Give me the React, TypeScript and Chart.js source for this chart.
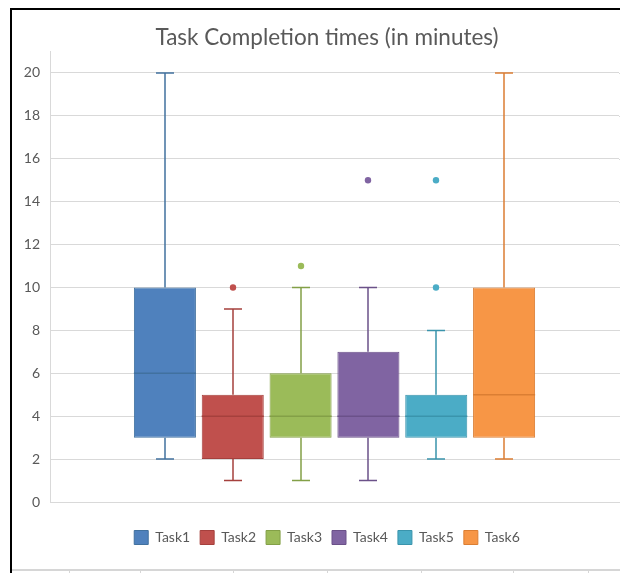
import React, { useEffect, useRef } from 'react';
import { Chart, registerables } from 'chart.js';

Chart.register(...registerables);

const categories = ['Task1', 'Task2', 'Task3', 'Task4', 'Task5', 'Task6'];
const whiskerMin = [2, 1, 1, 1, 2, 2];
const q1 = [3, 2, 3, 3, 3, 3];
const median = [6, 4, 4, 4, 4, 5];
const q3 = [10, 5, 6, 7, 5, 10];
const whiskerMax = [20, 9, 10, 10, 8, 20];
const outliers: number[][] = [[], [10], [11], [15], [10, 15], []];
const yTicks = [0, 2, 4, 6, 8, 10, 12, 14, 16, 18, 20];

const fillColors = ['#4F81BD', '#C0504D', '#9BBB59', '#8064A2', '#4BACC6', '#F79646'];
const lineColors = ['#41719F', '#A5403D', '#83A047', '#6B5189', '#3A94AC', '#DB7E33'];

const boxExtras = {
  id: 'boxExtras',
  afterLayout(chart: any) {
    const y = chart.scales.y;
    if (y) {
      y.width = y.right;
      y.left = 0;
    }
  },
  beforeDatasetsDraw(chart: any) {
    const ctx = chart.ctx;
    const y = chart.scales.y;
    const area = chart.chartArea;
    ctx.save();
    ctx.strokeStyle = '#d9d9d9';
    ctx.lineWidth = 1;
    yTicks.forEach((v) => {
      const py = Math.round(y.getPixelForValue(v)) + 0.5;
      ctx.beginPath();
      ctx.moveTo(area.right, py);
      ctx.lineTo(chart.width, py);
      ctx.stroke();
    });
    ctx.restore();
  },
  afterDatasetsDraw(chart: any) {
    const ctx = chart.ctx;
    const y = chart.scales.y;
    ctx.save();
    chart.data.datasets.forEach((_ds: any, i: number) => {
      const meta = chart.getDatasetMeta(i);
      const bar: any = meta.data[0];
      if (!bar) return;
      const cx = Math.round(bar.x);
      const half = bar.width / 2;
      const capHalf = 9;
      ctx.strokeStyle = lineColors[i];
      ctx.lineWidth = 1.5;
      const pMax = y.getPixelForValue(whiskerMax[i]);
      const pQ3 = y.getPixelForValue(q3[i]);
      const pQ1 = y.getPixelForValue(q1[i]);
      const pMin = y.getPixelForValue(whiskerMin[i]);
      const pMed = y.getPixelForValue(median[i]);
      ctx.beginPath();
      ctx.moveTo(cx, pMax);
      ctx.lineTo(cx, pQ3);
      ctx.moveTo(cx - capHalf, pMax);
      ctx.lineTo(cx + capHalf, pMax);
      ctx.moveTo(cx, pQ1);
      ctx.lineTo(cx, pMin);
      ctx.moveTo(cx - capHalf, pMin);
      ctx.lineTo(cx + capHalf, pMin);
      ctx.stroke();
      ctx.beginPath();
      ctx.moveTo(bar.x - half, pMed);
      ctx.lineTo(bar.x + half, pMed);
      ctx.stroke();
      ctx.fillStyle = fillColors[i];
      outliers[i].forEach((v) => {
        ctx.beginPath();
        ctx.arc(cx, y.getPixelForValue(v), 3.2, 0, Math.PI * 2);
        ctx.fill();
      });
    });
    ctx.restore();
  },
};

export default function App() {
  const ref = useRef<HTMLCanvasElement>(null);
  useEffect(() => {
    if (!ref.current) return;
    const chart = new Chart(ref.current, {
      type: 'bar',
      data: {
        labels: [''],
        datasets: categories.map((name, i) => ({
          label: name,
          data: [[q1[i], q3[i]]] as any,
          backgroundColor: fillColors[i],
          borderColor: lineColors[i],
          borderWidth: 1,
          borderSkipped: false,
          categoryPercentage: 0.7153,
          barPercentage: 0.9145,
        })),
      },
      options: {
        responsive: false,
        animation: false,
        layout: { padding: { left: 23, right: 9, top: 0, bottom: 13.5 } },
        plugins: {
          title: {
            display: true,
            text: 'Task Completion times (in minutes)',
            color: '#595959',
            font: { family: 'Lato', size: 22.5, weight: 'normal' },
            padding: { top: 14, bottom: 0.5 },
          },
          legend: {
            position: 'bottom',
            labels: {
              color: '#595959',
              font: { family: 'Lato', size: 14 },
              boxWidth: 14,
              boxHeight: 14,
              padding: 10,
            },
          },
          tooltip: { enabled: false },
        },
        scales: {
          x: {
            display: true,
            ticks: { display: false },
            grid: { display: false },
            border: { display: false },
            afterFit: (s: any) => {
              s.height = 18.5;
            },
          },
          y: {
            min: 0,
            max: 21,
            afterBuildTicks: (s: any) => {
              s.ticks = yTicks.map((v) => ({ value: v }));
            },
            afterFit: (s: any) => {
              s.width = 15;
            },
            grid: { color: '#d9d9d9', drawTicks: false },
            border: { color: '#d9d9d9' },
            ticks: {
              color: '#595959',
              font: { family: 'Lato', size: 14 },
              padding: 10,
            },
          },
        },
      },
      plugins: [boxExtras],
    });
    return () => chart.destroy();
  }, []);

  const bottomTicks = [69, 140, 233, 327, 421, 513, 588];
  return (
    <div style={{ position: 'relative', width: 620, height: 565, marginLeft: 2 }}>
      <div
        style={{
          position: 'absolute',
          left: 0,
          top: 0,
          width: 618,
          height: 563,
          borderTop: '2px solid #000',
          borderLeft: '2px solid #000',
        }}
      />
      <canvas
        ref={ref}
        width={616}
        height={558}
        style={{ position: 'absolute', left: 2, top: 2, display: 'block' }}
      />
      <div
        style={{
          position: 'absolute',
          left: 2,
          top: 561,
          width: 616,
          height: 2,
          background: '#d6d6d6',
        }}
      />
      {bottomTicks.map((x) => (
        <div
          key={x}
          style={{
            position: 'absolute',
            left: x - 10,
            top: 563,
            width: 1,
            height: 3,
            background: '#d6d6d6',
          }}
        />
      ))}
    </div>
  );
}
